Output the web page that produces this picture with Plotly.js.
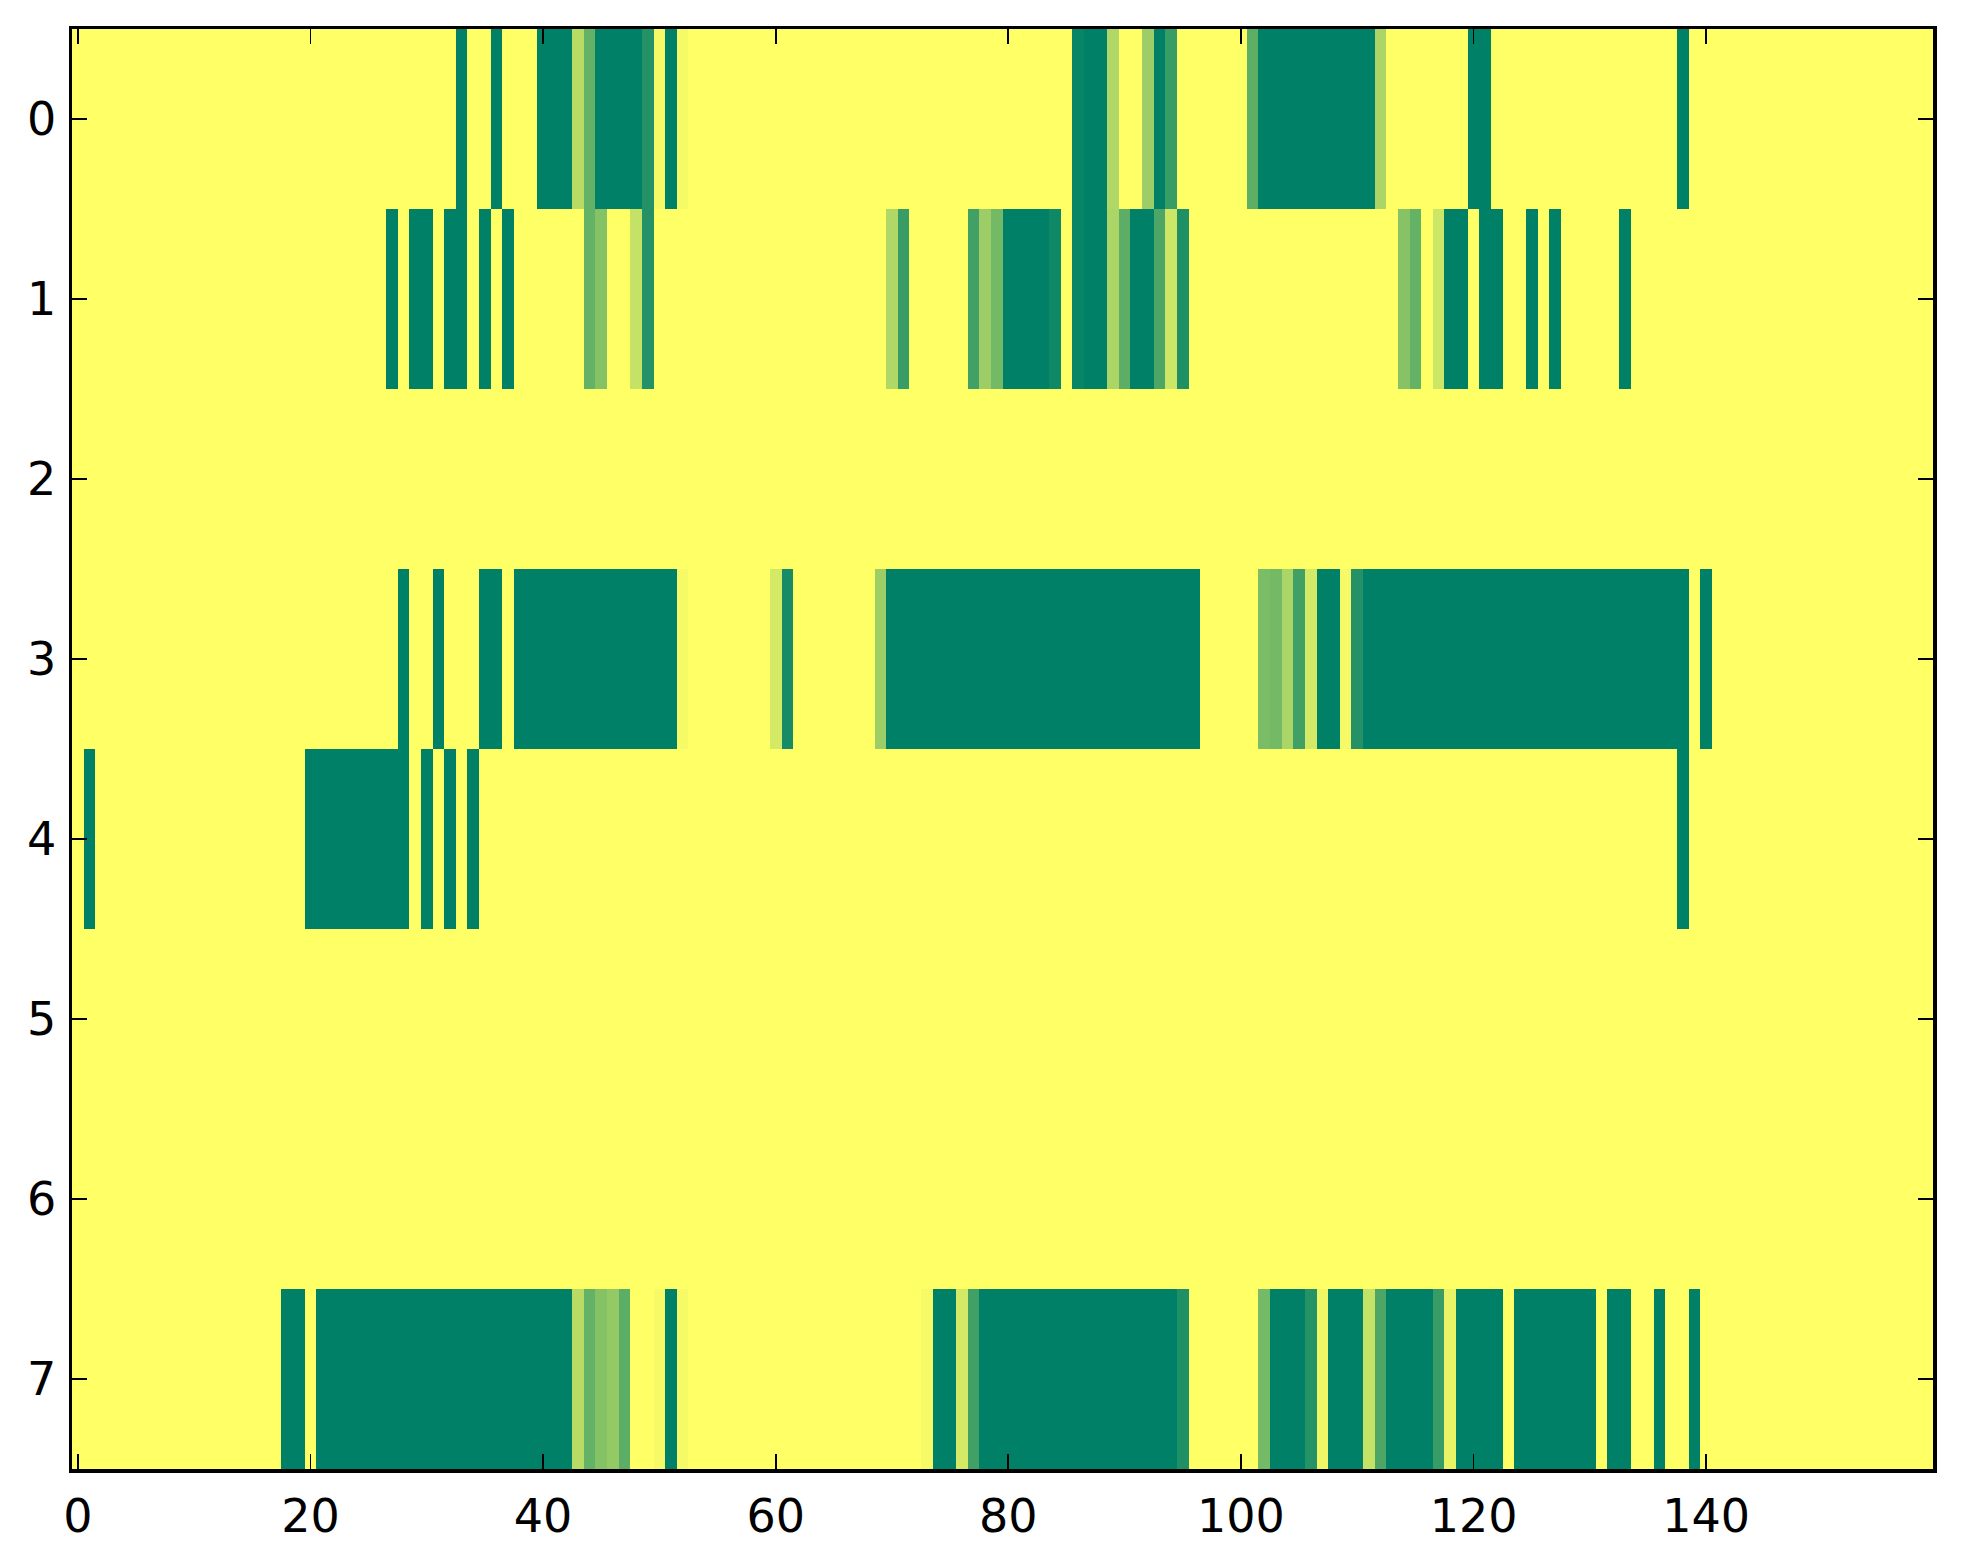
<!DOCTYPE html>
<html>
<head>
<meta charset="utf-8">
<script src="https://cdn.plot.ly/plotly-3.0.1.min.js"></script>
<style>html,body{margin:0;padding:0;background:#fff;}#chart{width:1963px;height:1564px;}</style>
</head>
<body>
<div id="chart"></div>
<script>
// values per row (columns 0..159), colormap "summer": 0 = dark green, 1 = yellow
const row0 = [
1,1,1,1,1,1,1,1,1,1,
1,1,1,1,1,1,1,1,1,1,
1,1,1,1,1,1,1,1,1,1,
1,1,1,0,1,1,0,1,1,1,
0,0,0,0.72,0.39,0,0,0,0,0.14,
0.96,0,0.96,1,1,1,1,1,1,1,
1,1,1,1,1,1,1,1,1,1,
1,1,1,1,1,1,1,1,1,1,
1,1,1,1,1,1,0.03,0,0,0.69,
1,1,0.61,0,0.22,1,1,1,1,1,
1,0.37,0,0,0,0,0,0,0,0,
0,0,0.67,1,1,1,1,1,1,1,
0,0,1,1,1,1,1,1,1,1,
1,1,1,1,1,1,1,1,0,1,
1,1,1,1,1,1,1,1,1,1,
1,1,1,1,1,1,1,1,1,1
];
const row1 = [
1,1,1,1,1,1,1,1,1,1,
1,1,1,1,1,1,1,1,1,1,
1,1,1,1,1,1,1,0,1,0,
0,1,0,0,1,0,1,0,1,1,
1,1,1,1,0.39,0.52,1,1,0.77,0.14,
1,1,1,1,1,1,1,1,1,1,
1,1,1,1,1,1,1,1,1,1,
0.69,0.22,1,1,1,1,1,0.25,0.61,0.45,
0,0,0,0,0.06,1,0.03,0,0,0.67,
0.36,0,0,0.30,0.80,0.12,1,1,1,1,
1,1,1,1,1,1,1,1,1,1,
1,1,1,1,0.53,0.39,1,0.80,0,0,
1,0,0,1,1,0,1,0,1,1,
1,1,1,0,1,1,1,1,1,1,
1,1,1,1,1,1,1,1,1,1,
1,1,1,1,1,1,1,1,1,1
];
const row2 = [
1,1,1,1,1,1,1,1,1,1,
1,1,1,1,1,1,1,1,1,1,
1,1,1,1,1,1,1,1,1,1,
1,1,1,1,1,1,1,1,1,1,
1,1,1,1,1,1,1,1,1,1,
1,1,1,1,1,1,1,1,1,1,
1,1,1,1,1,1,1,1,1,1,
1,1,1,1,1,1,1,1,1,1,
1,1,1,1,1,1,1,1,1,1,
1,1,1,1,1,1,1,1,1,1,
1,1,1,1,1,1,1,1,1,1,
1,1,1,1,1,1,1,1,1,1,
1,1,1,1,1,1,1,1,1,1,
1,1,1,1,1,1,1,1,1,1,
1,1,1,1,1,1,1,1,1,1,
1,1,1,1,1,1,1,1,1,1
];
const row3 = [
1,1,1,1,1,1,1,1,1,1,
1,1,1,1,1,1,1,1,1,1,
1,1,1,1,1,1,1,1,0,1,
1,0,1,1,1,0,0,1,0,0,
0,0,0,0,0,0,0,0,0,0,
0,0,0.96,1,1,1,1,1,1,1,
0.83,0.09,1,1,1,1,1,1,1,0.61,
0,0,0,0,0,0,0,0,0,0,
0,0,0,0,0,0,0,0,0,0,
0,0,0,0,0,0,0,1,1,1,
1,1,0.48,0.45,0.67,0.25,0.83,0,0,0.96,
0.14,0,0,0,0,0,0,0,0,0,
0,0,0,0,0,0,0,0,0,0,
0,0,0,0,0,0,0,0,0,1,
0,1,1,1,1,1,1,1,1,1,
1,1,1,1,1,1,1,1,1,1
];
const row4 = [
1,0,1,1,1,1,1,1,1,1,
1,1,1,1,1,1,1,1,1,1,
0,0,0,0,0,0,0,0,0,1,
0,1,0,1,0,1,1,1,1,1,
1,1,1,1,1,1,1,1,1,1,
1,1,1,1,1,1,1,1,1,1,
1,1,1,1,1,1,1,1,1,1,
1,1,1,1,1,1,1,1,1,1,
1,1,1,1,1,1,1,1,1,1,
1,1,1,1,1,1,1,1,1,1,
1,1,1,1,1,1,1,1,1,1,
1,1,1,1,1,1,1,1,1,1,
1,1,1,1,1,1,1,1,1,1,
1,1,1,1,1,1,1,1,0,1,
1,1,1,1,1,1,1,1,1,1,
1,1,1,1,1,1,1,1,1,1
];
const row5 = [
1,1,1,1,1,1,1,1,1,1,
1,1,1,1,1,1,1,1,1,1,
1,1,1,1,1,1,1,1,1,1,
1,1,1,1,1,1,1,1,1,1,
1,1,1,1,1,1,1,1,1,1,
1,1,1,1,1,1,1,1,1,1,
1,1,1,1,1,1,1,1,1,1,
1,1,1,1,1,1,1,1,1,1,
1,1,1,1,1,1,1,1,1,1,
1,1,1,1,1,1,1,1,1,1,
1,1,1,1,1,1,1,1,1,1,
1,1,1,1,1,1,1,1,1,1,
1,1,1,1,1,1,1,1,1,1,
1,1,1,1,1,1,1,1,1,1,
1,1,1,1,1,1,1,1,1,1,
1,1,1,1,1,1,1,1,1,1
];
const row6 = [
1,1,1,1,1,1,1,1,1,1,
1,1,1,1,1,1,1,1,1,1,
1,1,1,1,1,1,1,1,1,1,
1,1,1,1,1,1,1,1,1,1,
1,1,1,1,1,1,1,1,1,1,
1,1,1,1,1,1,1,1,1,1,
1,1,1,1,1,1,1,1,1,1,
1,1,1,1,1,1,1,1,1,1,
1,1,1,1,1,1,1,1,1,1,
1,1,1,1,1,1,1,1,1,1,
1,1,1,1,1,1,1,1,1,1,
1,1,1,1,1,1,1,1,1,1,
1,1,1,1,1,1,1,1,1,1,
1,1,1,1,1,1,1,1,1,1,
1,1,1,1,1,1,1,1,1,1,
1,1,1,1,1,1,1,1,1,1
];
const row7 = [
1,1,1,1,1,1,1,1,1,1,
1,1,1,1,1,1,1,1,0,0,
1,0,0,0,0,0,0,0,0,0,
0,0,0,0,0,0,0,0,0,0,
0,0,0,0.72,0.39,0.52,0.58,0.36,1,1,
0.96,0,0.96,1,1,1,1,1,1,1,
1,1,1,1,1,1,1,1,1,1,
1,1,1,0.96,0,0,0.83,0.25,0,0,
0,0,0,0,0,0,0,0,0,0,
0,0,0,0,0,0.12,1,1,1,1,
1,1,0.46,0,0,0,0.15,0.94,0,0,
0,0.77,0.30,0,0,0,0,0.22,0.91,0,
0,0,0,1,0,0,0,0,0,0,
0,1,0,0,1,1,0,1,1,0,
1,1,1,1,1,1,1,1,1,1,
1,1,1,1,1,1,1,1,1,1
];

const xTickVals = [0, 20, 40, 60, 80, 100, 120, 140];
const yTickVals = [0, 1, 2, 3, 4, 5, 6, 7];

const zRows = [row0, row1, row2, row3, row4, row5, row6, row7];

const summer = [[0, 'rgb(0,128,102)'], [1, 'rgb(255,255,102)']];

const trace = {
  type: 'heatmap',
  z: zRows,
  zmin: 0,
  zmax: 1,
  colorscale: summer,
  showscale: false,
  zsmooth: false,
  hoverinfo: 'skip'
};

const tickFont = {family: 'DejaVu Sans, sans-serif', size: 46, color: '#000'};
const axisCommon = {
  ticks: 'inside',
  ticklen: 15,
  tickwidth: 1.7,
  tickcolor: '#000',
  showline: true,
  linecolor: '#000',
  linewidth: 3.5,
  mirror: 'allticks',
  showgrid: false,
  zeroline: false,
  tickfont: tickFont
};

const layout = {
  width: 1963,
  height: 1564,
  margin: {l: 72, r: 30, t: 29, b: 95, pad: 0},
  paper_bgcolor: '#fff',
  plot_bgcolor: '#fff',
  showlegend: false,
  xaxis: Object.assign({}, axisCommon, {
    range: [-0.5, 159.5],
    tickmode: 'array',
    tickvals: xTickVals,
    ticktext: xTickVals.map(String),
    ticklabelstandoff: 4
  }),
  yaxis: Object.assign({}, axisCommon, {
    range: [7.5, -0.5],
    tickmode: 'array',
    tickvals: yTickVals,
    ticktext: yTickVals.map(String),
    ticklabelstandoff: 3
  })
};

Plotly.newPlot('chart', [trace], layout, {staticPlot: true, displayModeBar: false});
</script>
</body>
</html>
